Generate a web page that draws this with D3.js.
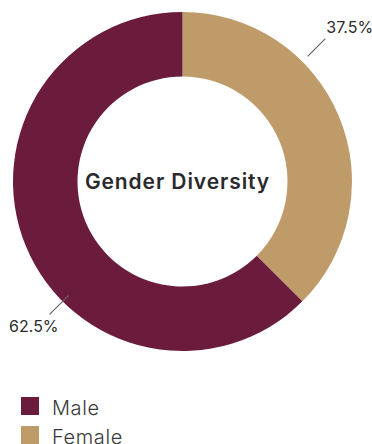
<!DOCTYPE html>
<html>
<head>
<meta charset="utf-8">
<script src="https://cdn.jsdelivr.net/npm/d3@7"></script>
<style>
  html, body { margin: 0; padding: 0; background: #fff; }
  svg { display: block; }
</style>
</head>
<body>
<svg id="chart" width="372" height="444"></svg>
<script>
// Gender split of the workforce
const categories = ["Female", "Male"];
const shares = [37.5, 62.5];
const valueLabels = ["37.5%", "62.5%"];
const legendOrder = ["Male", "Female"];
const centerTitle = "Gender Diversity";

const colors = { Male: "#6b1c3c", Female: "#bf9b69" };
const font = "Inter, 'Open Sans', sans-serif";

const svg = d3.select("#chart");
const cx = 182.5, cy = 181.5;
const outerR = 169.5, innerR = 105;

const pie = d3.pie().sort(null).value(d => d.value);
const arcs = pie(categories.map((c, i) => ({ name: c, value: shares[i], label: valueLabels[i] })));
const arc = d3.arc().innerRadius(innerR).outerRadius(outerR);

const g = svg.append("g").attr("transform", `translate(${cx},${cy})`);

g.selectAll("path.slice")
  .data(arcs)
  .join("path")
  .attr("class", "slice")
  .attr("d", arc)
  .attr("fill", d => colors[d.data.name]);

// Leader lines run along the diagonal nearest each slice's middle
const leader = {
  Female: { r0: 177, r1: 202, dx: 1, dy: -6, anchor: "start" },
  Male:   { r0: 161, r1: 188, dx: 9, dy: 18, anchor: "end" }
};
function diagAngle(d) {
  const mid = (d.startAngle + d.endAngle) / 2 * 180 / Math.PI;
  return (Math.floor((mid - 45) / 90) * 90 + 45) * Math.PI / 180;
}
const pt = (a, r) => [Math.sin(a) * r, -Math.cos(a) * r];

arcs.forEach(d => {
  const a = diagAngle(d);
  const s = leader[d.data.name];
  const p0 = pt(a, s.r0), p1 = pt(a, s.r1);
  g.append("line")
    .attr("x1", p0[0]).attr("y1", p0[1])
    .attr("x2", p1[0]).attr("y2", p1[1])
    .attr("stroke", "#666")
    .attr("stroke-width", 1.2);
  g.append("text")
    .attr("x", p1[0] + s.dx)
    .attr("y", p1[1] + s.dy)
    .attr("text-anchor", s.anchor)
    .attr("font-family", font)
    .attr("font-size", 16)
    .attr("fill", "#2b2b2b")
    .text(d.data.label);
});

g.append("text")
  .attr("x", -5)
  .attr("y", 7.5)
  .attr("text-anchor", "middle")
  .attr("font-family", font)
  .attr("font-weight", 600)
  .attr("font-size", 21)
  .attr("letter-spacing", 0.9)
  .attr("fill", "#2a2a2e")
  .text(centerTitle);

// Legend
const legend = svg.append("g").attr("transform", "translate(21,397)");
const items = legend.selectAll("g.item")
  .data(legendOrder)
  .join("g")
  .attr("class", "item")
  .attr("transform", (d, i) => `translate(0,${i * 29})`);
items.append("rect")
  .attr("width", 18).attr("height", 18)
  .attr("fill", d => colors[d]);
items.append("text")
  .attr("x", 31)
  .attr("y", 18)
  .attr("font-family", font)
  .attr("font-weight", 300)
  .attr("font-size", 20)
  .attr("letter-spacing", 0.6)
  .attr("fill", "#3a3a3a")
  .text(d => d);
</script>
</body>
</html>
